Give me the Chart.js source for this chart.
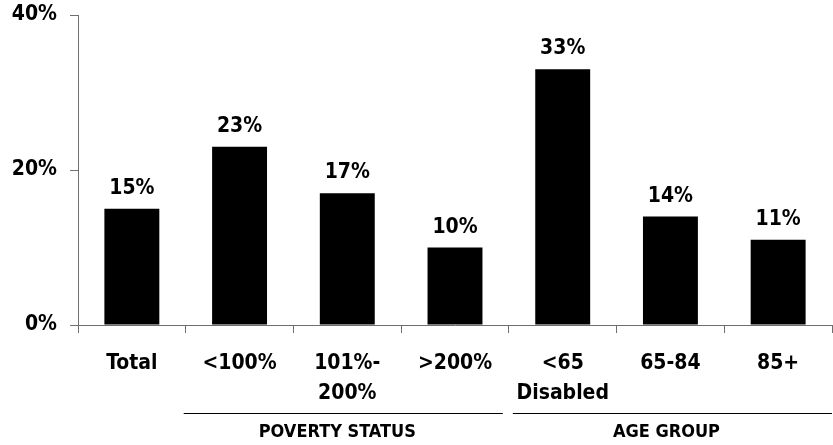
<!DOCTYPE html>
<html>
<head>
<meta charset="utf-8">
<script src="https://cdn.jsdelivr.net/npm/chart.js@4/dist/chart.umd.min.js"></script>
<style>
  html, body { margin: 0; padding: 0; background: #fff; }
  #wrap { width: 833px; height: 445px; }
</style>
</head>
<body>
<div id="wrap"><canvas id="myChart"></canvas></div>
<script>
// datos
const categories = ['Total', '<100%', ['101%-', '200%'], '>200%', ['<65', 'Disabled'], '65-84', '85+'];
const values = [15, 23, 17, 10, 33, 14, 11];
const yTicks = [0, 20, 40];
const groupNames = ['POVERTY STATUS', 'AGE GROUP'];
const groupStart = [1, 4];
const groupEnd = [3, 6];

const fontFamily = "'DejaVu Sans Condensed', 'DejaVu Sans', sans-serif";
const axisGray = '#6f6f6f';

// etiquetas encima de cada barra
const barLabels = {
    id: 'barLabels',
    afterDatasetsDraw(chart) {
        const ctx = chart.ctx;
        const meta = chart.getDatasetMeta(0);
        ctx.save();
        ctx.font = 'bold 21px ' + fontFamily;
        ctx.fillStyle = '#000';
        ctx.textAlign = 'center';
        ctx.textBaseline = 'alphabetic';
        meta.data.forEach((bar, i) => {
            ctx.fillText(values[i] + '%', bar.x, bar.y - 15);
        });
        ctx.restore();
    }
};

// grupos bajo el eje x (líneas + texto)
const groupLabels = {
    id: 'groupLabels',
    afterDraw(chart) {
        const ctx = chart.ctx;
        const x = chart.scales.x;
        const step = (x.right - x.left) / categories.length;
        ctx.save();
        groupNames.forEach((name, g) => {
            let left = x.left + groupStart[g] * step;
            let right = x.left + (groupEnd[g] + 1) * step;
            left += g > 0 ? 4 : -2;
            if (groupEnd[g] < categories.length - 1) right -= 6;
            ctx.strokeStyle = '#000';
            ctx.lineWidth = 1;
            ctx.beginPath();
            ctx.moveTo(left, 413.5);
            ctx.lineTo(right, 413.5);
            ctx.stroke();
            ctx.font = 'bold 18px ' + fontFamily;
            ctx.fillStyle = '#000';
            ctx.textAlign = 'center';
            ctx.textBaseline = 'alphabetic';
            ctx.fillText(name, (left + right) / 2 - 6, 437);
        });
        ctx.restore();
    }
};

const ctx = document.getElementById('myChart');

new Chart(ctx, {
    type: 'bar',
    data: {
        labels: categories,
        datasets: [{
            data: values,
            backgroundColor: '#000',
            borderWidth: 0,
            categoryPercentage: 1,
            barPercentage: 0.51
        }]
    },
    options: {
        responsive: true,
        maintainAspectRatio: false,
        animation: false,
        layout: { padding: { top: 15, right: 1, left: 0, bottom: 0 } },
        plugins: {
            legend: { display: false },
            tooltip: { enabled: false }
        },
        scales: {
            x: {
                grid: {
                    offset: true,
                    drawOnChartArea: false,
                    tickLength: 8,
                    color: axisGray
                },
                border: { color: axisGray },
                ticks: {
                    color: '#000',
                    padding: 16,
                    maxRotation: 0,
                    autoSkip: false,
                    font: { family: fontFamily, size: 21, weight: 'bold', lineHeight: 1.43 }
                },
                afterFit(scale) {
                    scale.height = 120;
                    scale.paddingLeft = 0;
                    scale.paddingRight = 0;
                }
            },
            y: {
                min: 0,
                max: 40,
                afterBuildTicks(scale) {
                    scale.ticks = yTicks.map(v => ({ value: v }));
                },
                grid: {
                    drawOnChartArea: false,
                    tickLength: 8,
                    color: axisGray
                },
                border: { color: axisGray },
                ticks: {
                    color: '#000',
                    padding: 13,
                    callback: v => v + '%',
                    font: { family: fontFamily, size: 21, weight: 'bold' }
                },
                afterFit(scale) {
                    scale.width = 78;
                    scale.paddingTop = 0;
                    scale.paddingBottom = 0;
                }
            }
        }
    },
    plugins: [barLabels, groupLabels]
});
</script>
</body>
</html>
